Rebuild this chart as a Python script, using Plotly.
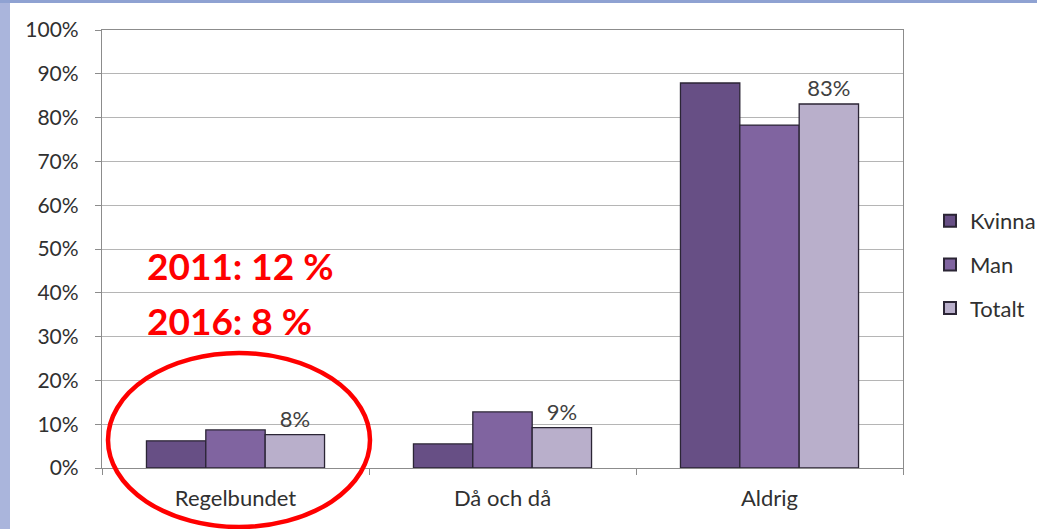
import plotly.graph_objects as go

categories = ["Regelbundet", "Då och då", "Aldrig"]
series_names = ["Kvinna", "Man", "Totalt"]
kvinna = [6.2, 5.5, 87.9]
man = [8.7, 12.8, 78.3]
totalt = [7.6, 9.2, 83.1]
totalt_labels = ["8%", "9%", "83%"]
colors = ["#674f85", "#8064a0", "#b9afcb"]
y_ticks = list(range(0, 101, 10))
y_tick_text = [f"{v}%" for v in y_ticks]
note_lines = ["2011: 12 %", "2016: 8 %"]

W, H = 1037, 529
L, R, T, B = 102, 134, 30, 61
pw, ph = W - L - R, H - T - B

def px(x):
    return (x - L) / pw

def py(y):
    return (H - B - y) / ph

fig = go.Figure()
for name, vals, col in zip(series_names, [kvinna, man, totalt], colors):
    fig.add_trace(go.Bar(
        x=categories, y=vals, name=name, legendgroup=name,
        marker=dict(color=col, line=dict(color="#2b2535", width=1.3)),
        text=totalt_labels if name == "Totalt" else None,
        textposition="outside" if name == "Totalt" else None,
        textfont=dict(size=22, color="#404040", family="Lato"),
        cliponaxis=False,
    ))

shapes = [
    dict(type="rect", xref="paper", yref="paper", x0=px(0), x1=px(10), y0=py(H), y1=py(0),
         fillcolor="#aab5dc", line=dict(width=0), layer="below"),
    dict(type="rect", xref="paper", yref="paper", x0=px(0), x1=px(W), y0=py(3), y1=py(0),
         fillcolor="#8fa2d2", line=dict(width=0), layer="below"),
    dict(type="circle", xref="paper", yref="paper", x0=px(108), x1=px(370), y0=py(527), y1=py(353),
         line=dict(color="#ff0000", width=4.5), fillcolor="rgba(0,0,0,0)", layer="above"),
]

annotations = [
    dict(text=note_lines[0], xref="paper", yref="paper", x=px(145), y=py(265), xanchor="left",
         yanchor="middle", showarrow=False,
         font=dict(size=37, color="#ff0000", family="Lato", weight="bold")),
    dict(text=note_lines[1], xref="paper", yref="paper", x=px(145), y=py(320), xanchor="left",
         yanchor="middle", showarrow=False,
         font=dict(size=37, color="#ff0000", family="Lato", weight="bold")),
]

fig.update_layout(
    width=W, height=H,
    margin=dict(l=L, r=R, t=T, b=B, autoexpand=False),
    paper_bgcolor="white", plot_bgcolor="white",
    barmode="group", bargap=0.333, bargroupgap=0,
    font=dict(family="Lato", color="#404040", size=20),
    showlegend=True,
    legend=dict(x=px(930), y=py(200), xanchor="left", yanchor="top",
                font=dict(size=22, color="#303030"), tracegroupgap=12,
                itemwidth=30, itemsizing="constant", bgcolor="rgba(0,0,0,0)"),
    shapes=shapes, annotations=annotations,
    xaxis=dict(showline=True, linecolor="#8c8c8c", linewidth=1.3, mirror=True,
               ticks="outside", tickson="boundaries", ticklen=6, tickcolor="#8c8c8c",
               tickfont=dict(size=22, color="#303030"), showgrid=False,
               ticklabelstandoff=10),
    yaxis=dict(range=[0, 100], tickvals=y_ticks, ticktext=y_tick_text,
               showline=True, linecolor="#8c8c8c", linewidth=1.3, mirror=True,
               ticks="outside", ticklen=6, tickcolor="#8c8c8c",
               showgrid=True, gridcolor="#b5b5b5", gridwidth=1.3,
               tickfont=dict(size=21, color="#303030"), ticklabelstandoff=12,
               zeroline=False),
)

fig.write_html("out.html", config={"displayModeBar": False},
               post_script="document.body.style.margin='0px';document.body.style.overflow='hidden';")
